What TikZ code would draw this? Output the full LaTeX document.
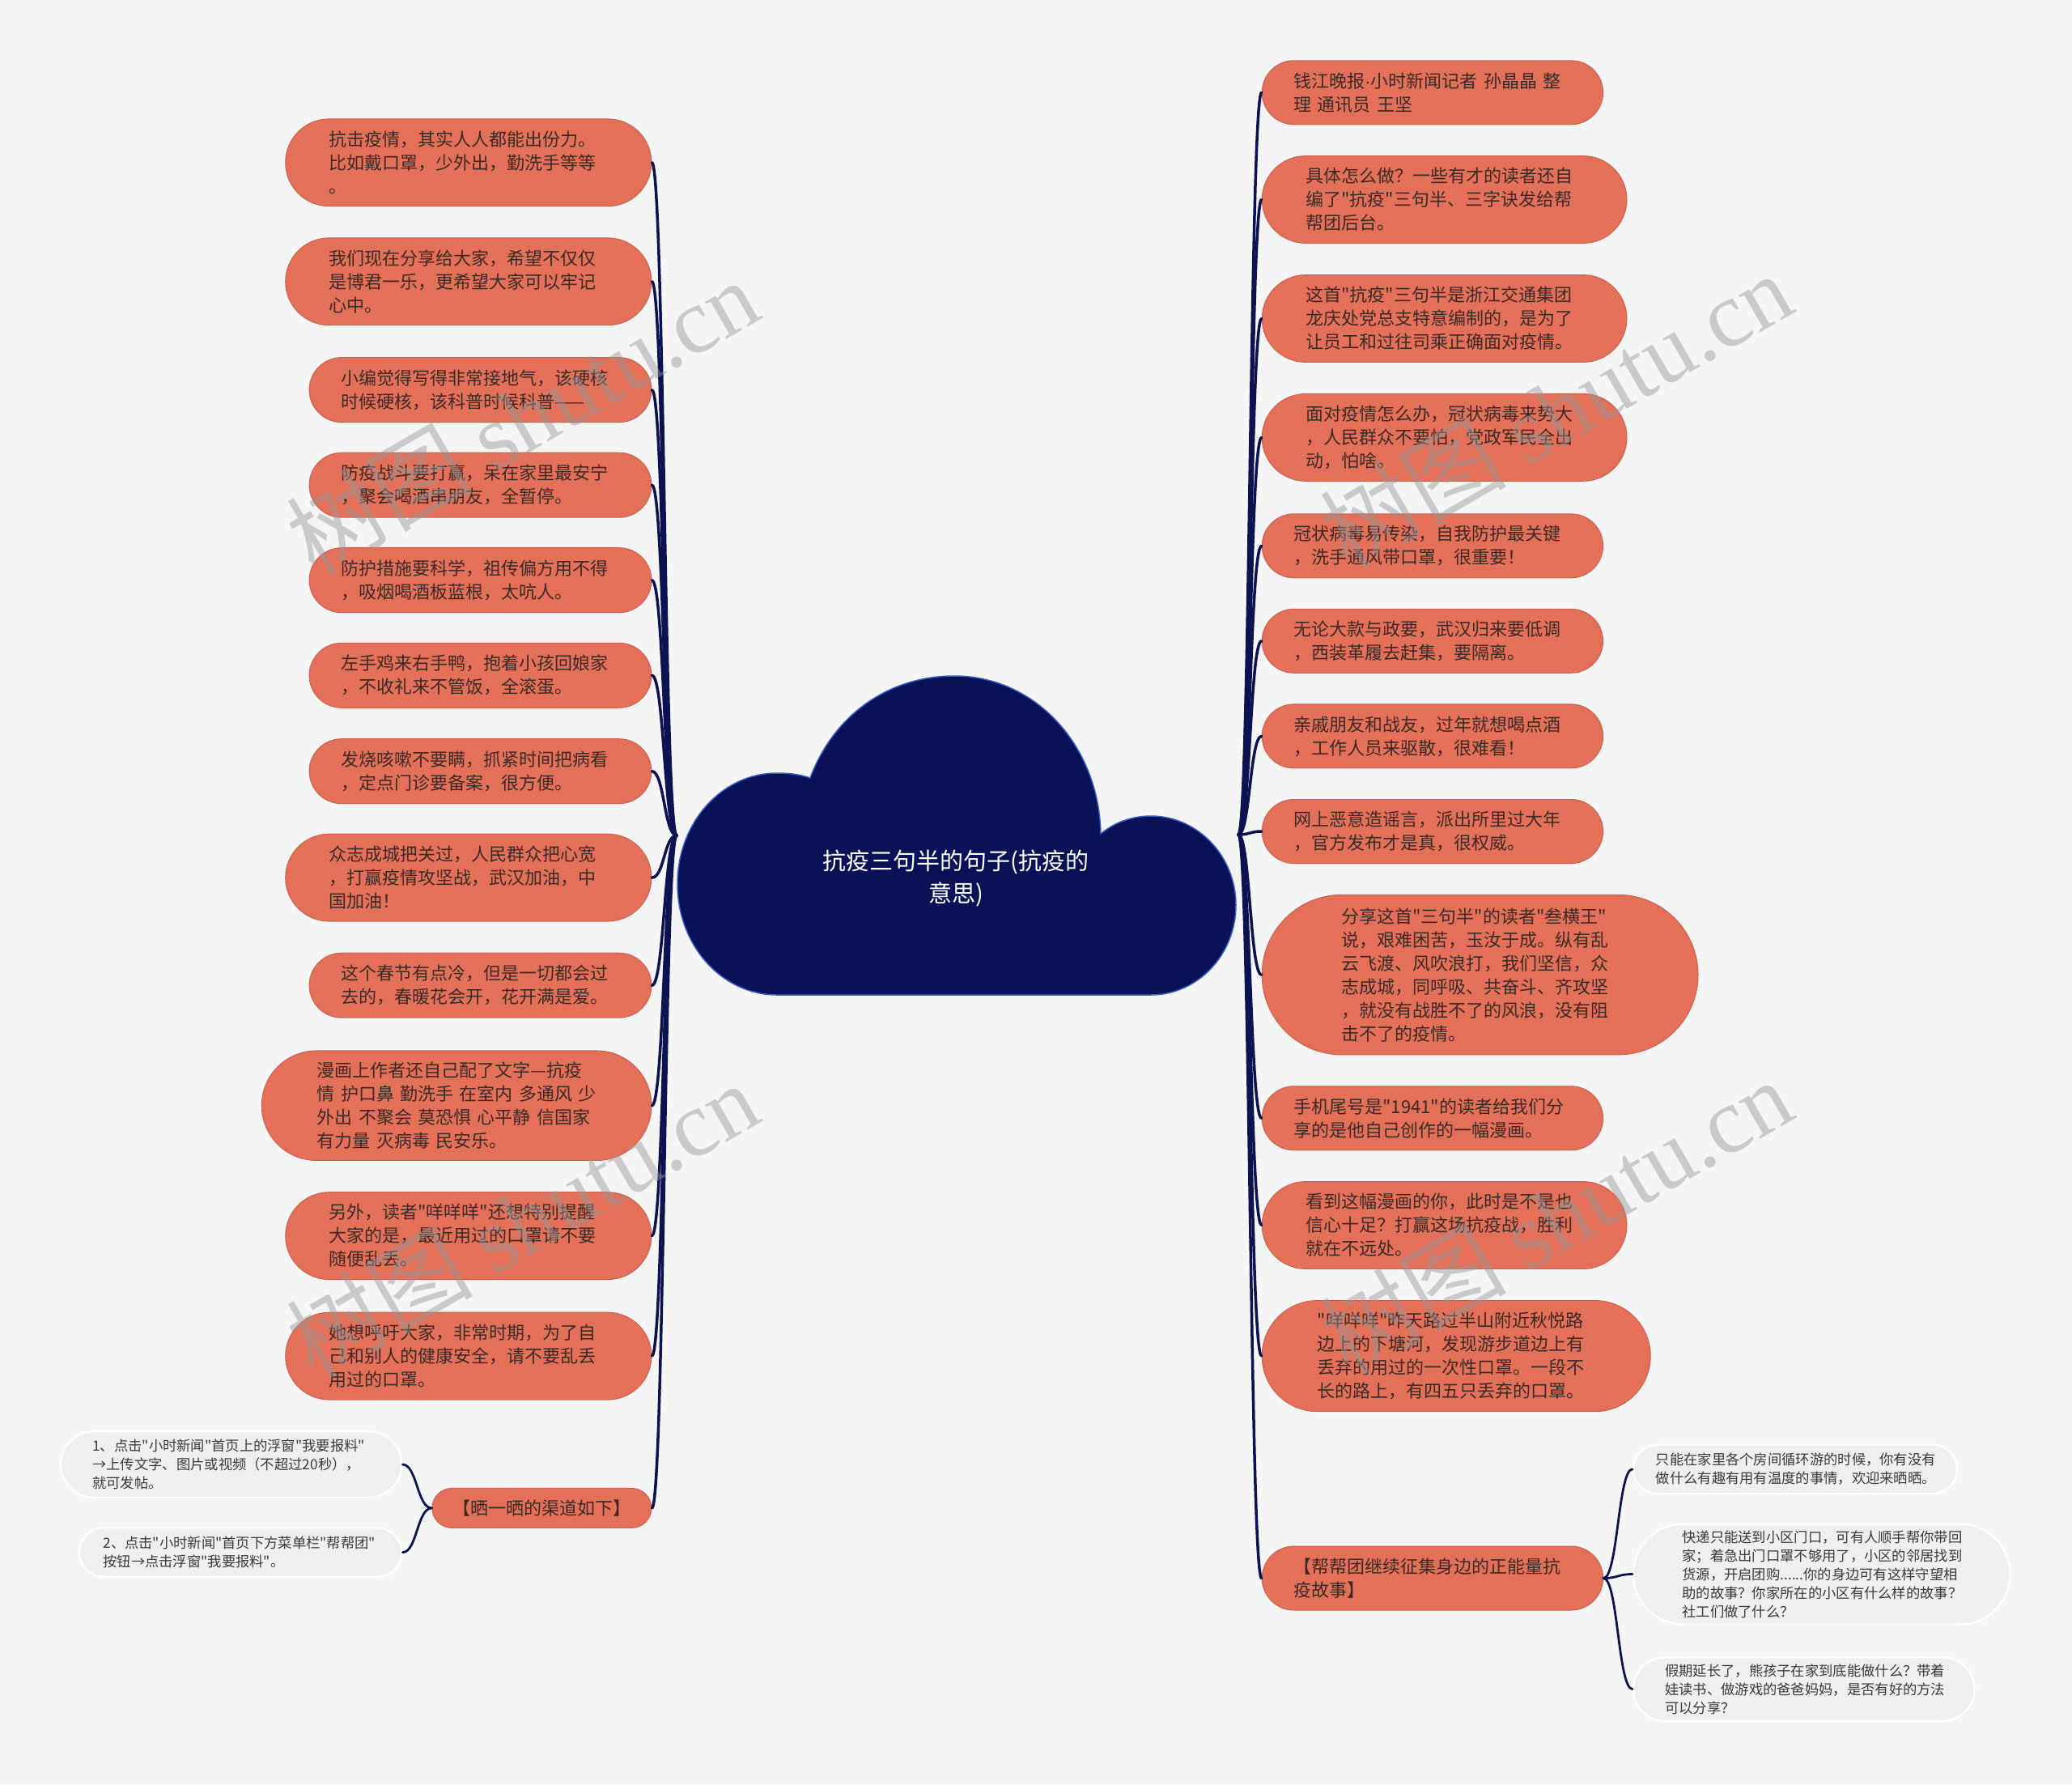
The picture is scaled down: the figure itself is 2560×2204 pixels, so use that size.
\documentclass[tikz,border=0pt]{standalone}
\usepackage{fontspec}
\setmainfont{Noto Sans CJK SC}[Ligatures=TeXOff]
\newfontfamily\wmlatin{Liberation Serif}
\newfontfamily\latinsans{Liberation Sans}
\usetikzlibrary{calc}
\definecolor{bg}{HTML}{F5F5F5}
\definecolor{salmon}{HTML}{E4705A}
\definecolor{salmonedge}{HTML}{CF624D}
\definecolor{ink}{HTML}{3A2B27}
\definecolor{navy}{HTML}{0A1157}
\definecolor{connc}{HTML}{0C1350}
\definecolor{subfill}{HTML}{EFEFEF}
\definecolor{subink}{HTML}{3A3A3A}
\definecolor{cloudedge}{HTML}{3A5CC4}
\definecolor{wmgray}{HTML}{969696}
\tikzset{
  mm/.style={to path={.. controls ($(\tikztostart)!0.5!(\tikztostart-|\tikztotarget)$) and ($(\tikztotarget)!0.5!(\tikztotarget-|\tikztostart)$) .. (\tikztotarget)}},
  link/.style={draw=connc, line width=3.5pt, line cap=round},
  sublink/.style={draw=connc, line width=2.8pt, line cap=round},
  topic/.style={rectangle, fill=salmon, draw=salmonedge, line width=1pt, text=ink, font=\fontsize{22}{29}\selectfont, align=left, inner ysep=0pt},
  subtopic/.style={rectangle, fill=subfill, draw=white, line width=2pt, text=subink, font=\fontsize{17.3}{23}\selectfont, align=left, inner ysep=0pt},
  shLA/.style={minimum width=452.2pt, minimum height=107.8pt, rounded corners=53.9pt, inner xsep=53.8pt, text width=344.6pt},
  shLB/.style={minimum width=422.8pt, minimum height=80pt, rounded corners=40pt, inner xsep=39.2pt, text width=344.4pt},
  shRB/.style={minimum width=421.3pt, minimum height=79pt, rounded corners=39.5pt, inner xsep=39.2pt, text width=342.9pt},
  shRA/.style={minimum width=450.7pt, minimum height=107.8pt, rounded corners=53.9pt, inner xsep=53.9pt, text width=342.9pt},
  wm/.style={text=wmgray, text opacity=0.45, font=\fontsize{115}{115}\selectfont, rotate=30, inner sep=0pt}
}
\begin{document}
\begin{tikzpicture}[x=1pt, y=-1pt]
\useasboundingbox (0,0) rectangle (2560,2204);
\fill[bg] (0,0) rectangle (2560,2204);

% central cloud
\filldraw[fill=navy, draw=cloudedge, line width=1.5pt]
 (960,1229) .. controls (892,1229) and (837,1168) .. (837,1092)
 .. controls (837,1016) and (892,955) .. (960,955)
 .. controls (976,955) and (990,957) .. (1001,961)
 .. controls (1030,883) and (1098,835) .. (1179,835)
 .. controls (1280,835) and (1358,922) .. (1360,1030)
 .. controls (1378,1015) and (1400,1008) .. (1422,1008)
 .. controls (1480,1008) and (1527,1058) .. (1527,1118)
 .. controls (1527,1179) and (1480,1229) .. (1422,1229)
 -- cycle;
\node[text=white, font=\fontsize{29}{40}\selectfont, align=center] (root) at (1181,1085) {抗疫三句半的句子(抗疫的\\意思)};
\coordinate (rootL) at (836,1032);
\coordinate (rootR) at (1530,1031);

% left topics
\node[topic, shLA] (L1) at (578.8,200.8) {抗击疫情，其实人人都能出份力。\\比如戴口罩，少外出，勤洗手等等\\。};
\node[topic, shLA] (L2) at (578.8,347.8) {我们现在分享给大家，希望不仅仅\\是博君一乐，更希望大家可以牢记\\心中。};
\node[topic, shLB] (L3) at (593.5,481.6) {小编觉得写得非常接地气，该硬核\\时候硬核，该科普时候科普——};
\node[topic, shLB] (L4) at (593.5,599.2) {防疫战斗要打赢，呆在家里最安宁\\，聚会喝酒串朋友，全暂停。};
\node[topic, shLB] (L5) at (593.5,716.7) {防护措施要科学，祖传偏方用不得\\，吸烟喝酒板蓝根，太吭人。};
\node[topic, shLB] (L6) at (593.5,834.3) {左手鸡来右手鸭，抱着小孩回娘家\\，不收礼来不管饭，全滚蛋。};
\node[topic, shLB] (L7) at (593.5,952.7) {发烧咳嗽不要瞒，抓紧时间把病看\\，定点门诊要备案，很方便。};
\node[topic, shLA] (L8) at (578.8,1084.1) {众志成城把关过，人民群众把心宽\\，打赢疫情攻坚战，武汉加油，中\\国加油！};
\node[topic, shLB] (L9) at (593.5,1217.2) {这个春节有点冷，但是一切都会过\\去的，春暖花会开，花开满是爱。};
\node[topic, minimum width=481.6pt, minimum height=135.5pt, rounded corners=67.7pt, inner xsep=68.5pt, text width=344.6pt] (L10) at (564.1,1365.7) {漫画上作者还自己配了文字—抗疫\\情~护口鼻~勤洗手~在室内~多通风~少\\外出~不聚会~莫恐惧~心平静~信国家\\有力量~灭病毒~民安乐。};
\node[topic, shLA] (L11) at (578.8,1526.6) {另外，读者"咩咩咩"还想特别提醒\\大家的是，最近用过的口罩请不要\\随便乱丢。};
\node[topic, shLA] (L12) at (578.8,1675.1) {她想呼吁大家，非常时期，为了自\\己和别人的健康安全，请不要乱丢\\用过的口罩。};
\node[topic, align=center, minimum width=271pt, minimum height=49pt, rounded corners=24.5pt, inner xsep=4pt] (L13) at (669.4,1862.9) {【晒一晒的渠道如下】};
\node[subtopic, minimum width=421.2pt, minimum height=81.6pt, rounded corners=40.8pt, inner xsep=39.2pt, text width=342.8pt] (L13a) at (285.7,1809) {1、点击"小时新闻"首页上的浮窗"我要报料"\\→上传文字、图片或视频（不超过20秒），\\就可发帖。};
\node[subtopic, minimum width=398.3pt, minimum height=60.4pt, rounded corners=30.2pt, inner xsep=29.4pt, text width=339.5pt] (L13b) at (297.2,1917.6) {2、点击"小时新闻"首页下方菜单栏"帮帮团"\\按钮→点击浮窗"我要报料"。};

% right topics
\node[topic, shRB] (R1) at (1769.9,114.3) {钱江晚报{\latinsans ·}小时新闻记者~孙晶晶~整\\理~通讯员~王坚};
\node[topic, shRA] (R2) at (1784.6,246.5) {具体怎么做？一些有才的读者还自\\编了"抗疫"三句半、三字诀发给帮\\帮团后台。};
\node[topic, shRA] (R3) at (1784.6,393.5) {这首"抗疫"三句半是浙江交通集团\\龙庆处党总支特意编制的，是为了\\让员工和过往司乘正确面对疫情。};
\node[topic, shRA] (R4) at (1784.6,540.4) {面对疫情怎么办，冠状病毒来势大\\，人民群众不要怕，党政军民全出\\动，怕啥。};
\node[topic, shRB] (R5) at (1769.9,674.3) {冠状病毒易传染，自我防护最关键\\，洗手通风带口罩，很重要！};
\node[topic, shRB] (R6) at (1769.9,791.8) {无论大款与政要，武汉归来要低调\\，西装革履去赶集，要隔离。};
\node[topic, shRB] (R7) at (1769.9,909.4) {亲戚朋友和战友，过年就想喝点酒\\，工作人员来驱散，很难看！};
\node[topic, shRB] (R8) at (1769.9,1027) {网上恶意造谣言，派出所里过大年\\，官方发布才是真，很权威。};
\node[topic, minimum width=538.8pt, minimum height=197.6pt, rounded corners=98.8pt, inner xsep=98pt, text width=342.8pt] (R9) at (1828.6,1204.1) {分享这首"三句半"的读者"叁横王"\\说，艰难困苦，玉汝于成。纵有乱\\云飞渡、风吹浪打，我们坚信，众\\志成城，同呼吸、共奋斗、齐攻坚\\，就没有战胜不了的风浪，没有阻\\击不了的疫情。};
\node[topic, shRB] (R10) at (1769.9,1381.3) {手机尾号是"1941"的读者给我们分\\享的是他自己创作的一幅漫画。};
\node[topic, shRA] (R11) at (1784.6,1513.5) {看到这幅漫画的你，此时是不是也\\信心十足？打赢这场抗疫战，胜利\\就在不远处。};
\node[topic, minimum width=480pt, minimum height=137.1pt, rounded corners=68.5pt, inner xsep=68.6pt, text width=342.8pt] (R12) at (1799.2,1675.1) {"咩咩咩"昨天路过半山附近秋悦路\\边上的下塘河，发现游步道边上有\\丢弃的用过的一次性口罩。一段不\\长的路上，有四五只丢弃的口罩。};
\node[topic, shRB] (R13) at (1769.9,1949.5) {【帮帮团继续征集身边的正能量抗\\疫故事】};
\node[subtopic, minimum width=400pt, minimum height=60.4pt, rounded corners=30.2pt, inner xsep=27.8pt, text width=344.4pt] (R13a) at (2218,1814.8) {只能在家里各个房间循环游的时候，你有没有\\做什么有趣有用有温度的事情，欢迎来晒晒。};
\node[subtopic, minimum width=465.3pt, minimum height=124pt, rounded corners=62pt, inner xsep=60.4pt, text width=344.5pt] (R13b) at (2250.7,1944.5) {快递只能送到小区门口，可有人顺手帮你带回\\家；着急出门口罩不够用了，小区的邻居找到\\货源，开启团购......你的身边可有这样守望相\\助的故事？你家所在的小区有什么样的故事？\\社工们做了什么？};
\node[subtopic, minimum width=421.3pt, minimum height=78.4pt, rounded corners=39.2pt, inner xsep=39.2pt, text width=342.9pt] (R13c) at (2228.7,2086.6) {假期延长了，熊孩子在家到底能做什么？带着\\娃读书、做游戏的爸爸妈妈，是否有好的方法\\可以分享？};

% connectors
\foreach \n in {L1,L2,L3,L4,L5,L6,L7,L8,L9,L10,L11,L12,L13}
  \draw[link] (rootL) to[mm] (\n.east);
\foreach \n in {R1,R2,R3,R4,R5,R6,R7,R8,R9,R10,R11,R12,R13}
  \draw[link] (rootR) to[mm] (\n.west);
\draw[sublink] (L13.west) to[mm] (L13a.east);
\draw[sublink] (L13.west) to[mm] (L13b.east);
\draw[sublink] (R13.east) to[mm] (R13a.west);
\draw[sublink] (R13.east) to[mm] (R13b.west);
\draw[sublink] (R13.east) to[mm] (R13c.west);

% watermarks
\node[wm] (wm1) at (645,514) {树图 {\wmlatin shutu.cn}};
\node[wm] (wm2) at (645,1506) {树图 {\wmlatin shutu.cn}};
\node[wm] (wm3) at (1922,506) {树图 {\wmlatin shutu.cn}};
\node[wm] (wm4) at (1922,1502) {树图 {\wmlatin shutu.cn}};
\end{tikzpicture}
\end{document}
